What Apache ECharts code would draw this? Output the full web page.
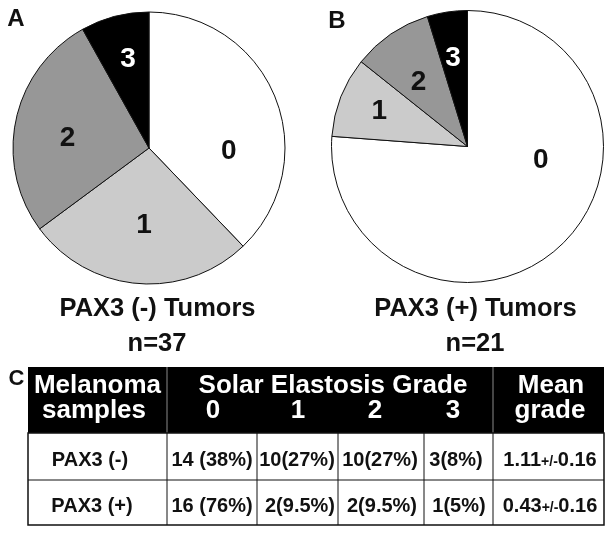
<!DOCTYPE html>
<html><head><meta charset="utf-8">
<script src="https://cdn.jsdelivr.net/npm/echarts@6/dist/echarts.min.js"></script>
<style>html,body{margin:0;padding:0;background:#fff}#c{width:614px;height:535px}</style>
</head><body><div id="c"></div>
<script>
// ---- data ----
const grades = ['0', '1', '2', '3'];
const negCounts = [14, 10, 10, 3];
const posCounts = [16, 2, 2, 1];
const negPct = ['38%', '27%', '27%', '8%'];
const posPct = ['76%', '9.5%', '9.5%', '5%'];
const rowLabels = ['PAX3 (-)', 'PAX3 (+)'];
const meanGrade = ['1.11', '0.43'];
const meanSem = ['0.16', '0.16'];
const pieTitles = ['PAX3 (-) Tumors', 'PAX3 (+) Tumors'];
const pieN = ['n=37', 'n=21'];
const panelLetters = ['A', 'B', 'C'];
const headerTexts = ['Melanoma', 'samples', 'Solar Elastosis Grade', 'Mean', 'grade'];

// ---- style / layout ----
const FONT = '"Liberation Sans", Arial, Helvetica, sans-serif';
const sliceColors = ['#ffffff', '#cbcbcb', '#979797', '#000000'];
const labelColors = ['#111', '#111', '#111', '#fff'];
const labelShift = [
  [[14, 30], [1, 7], [-12, 5], [-3, -20]],
  [[25, -38], [-22, -9], [-9, -6], [-4, -18]]
];

function pieSeries(counts, center, k) {
  return {
    type: 'pie', center: center, radius: 136, startAngle: 90, clockwise: true,
    silent: true, animation: false, avoidLabelOverlap: false,
    data: counts.map((v, i) => ({
      name: grades[i], value: v,
      itemStyle: { color: sliceColors[i] },
      label: { color: labelColors[i] }
    })),
    itemStyle: { borderColor: '#111', borderWidth: 1 },
    emphasis: { disabled: true },
    label: { show: true, position: 'inside', formatter: '{b}', fontFamily: FONT, fontWeight: 'bold', fontSize: 28 },
    labelLine: { show: false },
    labelLayout: function (p) {
      const s = labelShift[k][p.dataIndex];
      return {
        x: p.labelRect.x + p.labelRect.width / 2 + s[0],
        y: p.labelRect.y + p.labelRect.height / 2 + s[1],
        align: 'center', verticalAlign: 'middle'
      };
    }
  };
}

function txt(x, y, text, size, color) {
  return {
    type: 'text', x: x, y: y, silent: true,
    style: { text: text, fill: color || '#111', font: 'bold ' + size + 'px ' + FONT, align: 'center', verticalAlign: 'middle' }
  };
}
function line(x1, y1, x2, y2, color, w) {
  return { type: 'line', silent: true, shape: { x1, y1, x2, y2 }, style: { stroke: color, lineWidth: w } };
}

const colX = [28, 167, 257, 338, 424, 493, 604];
const hdrTop = 367, hdrBot = 433, rowMid = 480, tblBot = 525;
const rowTextY = [460.5, 506];
const cellCenters = [
  [90, 212, 297, 380, 456, 550],
  [92, 212, 300, 382, 459, 550]
];

const g = [];
// panel letters
g.push(txt(16, 19.5, panelLetters[0], 24));
g.push(txt(337, 21, panelLetters[1], 24));
g.push(txt(16.5, 378.5, panelLetters[2], 22));
// pie titles
g.push(txt(157.5, 309, pieTitles[0], 25.5));
g.push(txt(157, 344, pieN[0], 25.5));
g.push(txt(475.5, 309, pieTitles[1], 25.5));
g.push(txt(475, 344, pieN[1], 25.5));
// table header
g.push({ type: 'rect', silent: true, shape: { x: colX[0], y: hdrTop, width: colX[6] - colX[0], height: hdrBot - hdrTop }, style: { fill: '#000' } });
g.push(line(colX[1], hdrTop, colX[1], hdrBot, '#8a8a8a', 1));
g.push(line(colX[5], hdrTop, colX[5], hdrBot, '#8a8a8a', 1));
g.push(txt(97.5, 386, headerTexts[0], 26, '#fff'));
g.push(txt(94, 411, headerTexts[1], 26, '#fff'));
g.push(txt(333, 386, headerTexts[2], 26, '#fff'));
const gradeX = [213, 298, 375, 453];
grades.forEach((gr, i) => g.push(txt(gradeX[i], 411, gr, 26, '#fff')));
g.push(txt(551, 386, headerTexts[3], 26, '#fff'));
g.push(txt(550, 411, headerTexts[4], 26, '#fff'));
// table body
g.push({ type: 'rect', silent: true, shape: { x: colX[0], y: hdrBot, width: colX[6] - colX[0], height: tblBot - hdrBot }, style: { fill: '#fff', stroke: '#111', lineWidth: 1.5 } });
g.push(line(colX[0], rowMid, colX[6], rowMid, '#111', 1));
for (let c = 1; c < 6; c++) g.push(line(colX[c], hdrBot, colX[c], tblBot, '#111', 1));

const rowsCounts = [negCounts, posCounts];
const rowsPct = [negPct, posPct];
for (let r = 0; r < 2; r++) {
  const y = rowTextY[r];
  g.push(txt(cellCenters[r][0], y, rowLabels[r], 20));
  for (let i = 0; i < 4; i++) {
    const s = i === 0 ? rowsCounts[r][i] + ' (' + rowsPct[r][i] + ')' : rowsCounts[r][i] + '(' + rowsPct[r][i] + ')';
    g.push(txt(cellCenters[r][i + 1], y, s, 20));
  }
  g.push({
    type: 'text', x: cellCenters[r][5], y: y, silent: true,
    style: {
      text: '{a|' + meanGrade[r] + '}{b|+/-}{a|' + meanSem[r] + '}',
      align: 'center', verticalAlign: 'middle',
      rich: {
        a: { font: 'bold 20px ' + FONT, fill: '#111' },
        b: { font: 'bold 14px ' + FONT, fill: '#111', padding: [4, 0, 0, 0] }
      }
    }
  });
}

const chart = echarts.init(document.getElementById('c'), null, { renderer: 'canvas' });
chart.setOption({
  backgroundColor: '#fff',
  animation: false,
  series: [pieSeries(negCounts, [149, 148], 0), pieSeries(posCounts, [467.5, 146.5], 1)],
  graphic: { elements: g }
});
</script>
</body></html>
